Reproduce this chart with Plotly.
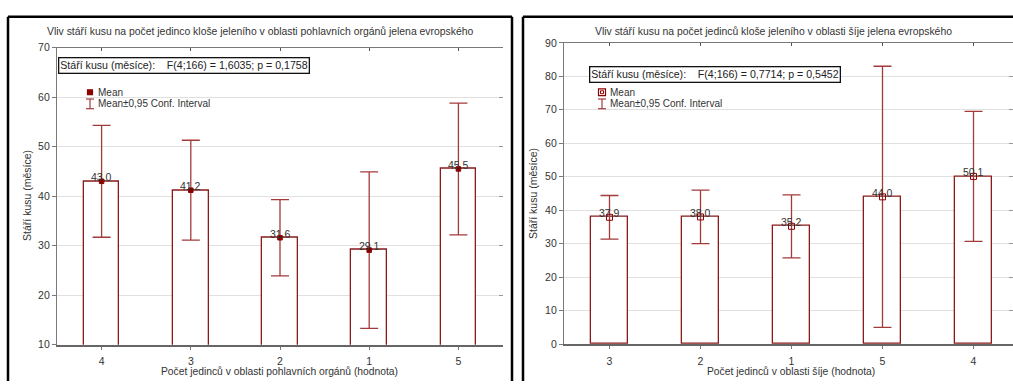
import plotly.graph_objects as go

W, H = 1013, 387

# --- data -------------------------------------------------------------------
left_cats = ["4", "3", "2", "1", "5"]
left_means = [43.0, 41.2, 31.6, 29.1, 45.5]
left_ci_low = [31.7, 31.1, 23.9, 13.3, 32.2]
left_ci_high = [54.3, 51.3, 39.3, 44.9, 58.8]

right_cats = ["3", "2", "1", "5", "4"]
right_means = [37.9, 38.0, 35.2, 44.0, 50.1]
right_ci_low = [31.4, 30.0, 25.8, 5.0, 30.7]
right_ci_high = [44.4, 46.0, 44.6, 83.0, 69.5]

left_title = "Vliv stáří kusu na počet jedinco kloše jeleního v oblasti pohlavních orgánů jelena evropského"
right_title = "Vliv stáří kusu na počet jedinců kloše jeleního v oblasti šíje jelena evropského"
left_xlabel = "Počet jedinců v oblasti pohlavních orgánů (hodnota)"
right_xlabel = "Počet jedinců v oblasti šíje (hodnota)"
ylabel = "Stáří kusu (měsíce)"
left_stats = "Stáří kusu (měsíce):    F(4;166) = 1,6035; p = 0,1758"
right_stats = "Stáří kusu (měsíce):    F(4;166) = 0,7714; p = 0,5452"
legend_mean = "Mean"
legend_ci = "Mean±0,95 Conf. Interval"

# --- style ------------------------------------------------------------------
FONT = "Liberation Sans, Arial, sans-serif"
TXT = "#333333"
BAR_LINE = "#8b1a1a"
ERR = "#a33a3a"
MARK = "#8b0000"
GRID = "#e0e0e0"
AXIS = "#7a7a7a"


def px(x):
    return x / W


def py(y):
    return 1 - y / H


fig = go.Figure()


def add_panel(cats, means, lo, hi, xa, ya, xa_top, ya_right, marker_symbol, marker_size):
    fig.add_trace(go.Bar(
        x=cats, y=means, width=0.4,
        marker=dict(color="white", line=dict(color=BAR_LINE, width=1.3)),
        xaxis=xa, yaxis=ya, showlegend=False, hoverinfo="skip",
    ))
    fig.add_trace(go.Scatter(
        x=cats, y=means, mode="markers",
        marker=dict(symbol=marker_symbol, size=marker_size, color=MARK,
                    line=dict(color=MARK, width=1)),
        error_y=dict(type="data", symmetric=False,
                     array=[h - m for h, m in zip(hi, means)],
                     arrayminus=[m - l for m, l in zip(means, lo)],
                     color=ERR, thickness=1.3, width=9),
        xaxis=xa, yaxis=ya, showlegend=False,
    ))
    # invisible trace that carries the mirrored top/right axes
    fig.add_trace(go.Scatter(
        x=cats, y=means, mode="markers", marker=dict(opacity=0),
        xaxis=xa_top, yaxis=ya_right, showlegend=False, hoverinfo="skip",
    ))
    # value labels above each mean (category axes are addressed by index)
    for i, m in enumerate(means):
        fig.add_annotation(x=i, y=m, xref=xa, yref=ya, text=f"{m:.1f}",
                           showarrow=False, yanchor="bottom", yshift=-4,
                           font=dict(family=FONT, size=10.5, color=TXT))


add_panel(left_cats, left_means, left_ci_low, left_ci_high,
          "x", "y", "x3", "y3", "square", 4.5)
add_panel(right_cats, right_means, right_ci_low, right_ci_high,
          "x2", "y2", "x4", "y4", "square-open", 6)

tickfont = dict(family=FONT, size=10.5, color=TXT)


def xaxis(domain, rng, anchor):
    return dict(domain=domain, range=rng, anchor=anchor, type="category",
                showline=True, linecolor="#666666", linewidth=2,
                ticks="outside", ticklen=3, tickcolor=AXIS, ticklabelstandoff=3,
                tickfont=tickfont, showgrid=False, zeroline=False, fixedrange=True)


def yaxis(domain, rng, anchor):
    return dict(domain=domain, range=rng, anchor=anchor, dtick=10,
                showline=True, linecolor=AXIS, linewidth=1.2,
                ticks="outside", ticklen=4, tickcolor=AXIS,
                tickfont=tickfont, showgrid=True, gridcolor=GRID, gridwidth=1,
                zeroline=False, fixedrange=True)


def top_axis(over, rng, anchor):
    return dict(overlaying=over, side="top", range=rng, anchor=anchor, type="category",
                showline=True, linecolor=AXIS, linewidth=1.2,
                ticks="inside", ticklen=3, tickcolor="#555555",
                showticklabels=False, showgrid=False, zeroline=False, fixedrange=True)


def right_axis(over, rng, anchor):
    return dict(overlaying=over, side="right", range=rng, anchor=anchor, dtick=10,
                showline=False, ticks="inside", ticklen=4, tickcolor="#999999",
                showticklabels=False, showgrid=False, zeroline=False, fixedrange=True)


L_X = [px(57), px(503)]
L_Y = [py(349.5), py(43)]
R_X = [px(564), 1.0]
R_Y = [py(349), py(38)]
L_XR = [-0.5, 4.5]
R_XR = [-0.5, 4.434]
L_YR = [10, 70]
R_YR = [0, 90]

fig.update_layout(
    width=W, height=H, margin=dict(l=0, r=0, t=0, b=0),
    paper_bgcolor="white", plot_bgcolor="white", bargap=0,
    xaxis=xaxis(L_X, L_XR, "y"),
    yaxis=yaxis(L_Y, L_YR, "x"),
    xaxis2=xaxis(R_X, R_XR, "y2"),
    yaxis2=yaxis(R_Y, R_YR, "x2"),
    xaxis3=top_axis("x", L_XR, "y3"),
    yaxis3=right_axis("y", L_YR, "x3"),
    xaxis4=top_axis("x2", R_XR, "y4"),
    yaxis4=right_axis("y2", R_YR, "x4"),
    font=dict(family=FONT, color=TXT),
)


def note(x, y, text, size=10.5, **kw):
    fig.add_annotation(x=px(x), y=py(y), xref="paper", yref="paper", text=text,
                       showarrow=False, font=dict(family=FONT, size=size, color=TXT), **kw)


# titles
note(260, 26, left_title, size=10.4, xanchor="center", yanchor="middle")
note(773, 26, right_title, size=10.4, xanchor="center", yanchor="middle")
# axis titles
note(279, 377, left_xlabel, size=10.3, xanchor="center", yanchor="middle")
note(791, 377, right_xlabel, size=10.3, xanchor="center", yanchor="middle")
note(27, 196, ylabel, size=10.5, textangle=-90, xanchor="center", yanchor="middle")
note(533, 194, ylabel, size=10.5, textangle=-90, xanchor="center", yanchor="middle")

# statistics boxes (non-breaking spaces keep the wide gaps)
for x0, y0, text in [(58, 52.5, left_stats), (589, 61.5, right_stats)]:
    fig.add_annotation(x=px(x0), y=py(y0), xref="paper", yref="paper",
                       text=text.replace(" ", "\u00a0"), showarrow=False,
                       xanchor="left", yanchor="top",
                       font=dict(family=FONT, size=10.6, color="#222222"),
                       bgcolor="white", bordercolor="#111111", borderwidth=1.3, borderpad=1)

# legends
shapes = []
for lx, ly, filled, sz in [(90, 89, True, 5), (602, 89, False, 7)]:
    h = sz / 2
    shapes.append(dict(type="rect", xref="paper", yref="paper",
                       x0=px(lx - h), x1=px(lx + h), y0=py(ly + h), y1=py(ly - h),
                       line=dict(color=MARK, width=1.2),
                       fillcolor=MARK if filled else "rgba(0,0,0,0)"))
    if not filled:
        shapes.append(dict(type="rect", xref="paper", yref="paper",
                           x0=px(lx - 1.5), x1=px(lx + 1.5), y0=py(ly + 1.5), y1=py(ly - 1.5),
                           line=dict(color=MARK, width=1), fillcolor="rgba(0,0,0,0)"))
    ey0, ey1 = ly + 7, ly + 17
    shapes.append(dict(type="line", xref="paper", yref="paper",
                       x0=px(lx), x1=px(lx), y0=py(ey0), y1=py(ey1), line=dict(color=ERR, width=1.2)))
    for yy in (ey0, ey1):
        shapes.append(dict(type="line", xref="paper", yref="paper",
                           x0=px(lx - 4), x1=px(lx + 4), y0=py(yy), y1=py(yy),
                           line=dict(color=ERR, width=1.2)))
    note(lx + 6, ly, legend_mean, size=10, xanchor="left", yanchor="middle")
    note(lx + 6, ly + 12, legend_ci, size=10, xanchor="left", yanchor="middle")

# panel frames
for x0, y0, x1, y1 in [(8, 11, 512, 11), (8, 11, 8, 387), (512, 11, 512, 387),
                       (523, 11, 1013, 11), (523, 11, 523, 387)]:
    shapes.append(dict(type="line", xref="paper", yref="paper",
                       x0=px(x0), y0=py(y0), x1=px(x1), y1=py(y1),
                       line=dict(color="black", width=2.5)))

fig.update_layout(shapes=shapes)
fig.write_html("out.html")
